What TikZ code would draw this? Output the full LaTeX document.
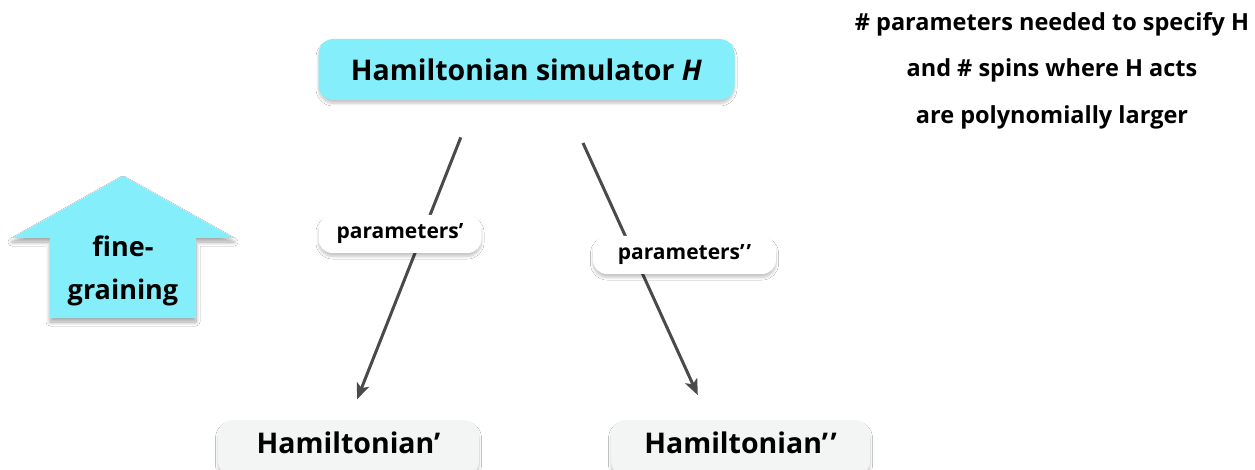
\documentclass[tikz,border=0pt]{standalone}
\usepackage{fontspec}
\setmainfont{Open Sans}
\usetikzlibrary{shadows.blur,arrows.meta,calc}
\definecolor{skycyan}{HTML}{84EEFB}
\definecolor{leafgray}{HTML}{F3F5F5}
\definecolor{linkgray}{HTML}{4A4A4A}
\newcommand{\dprime}{’\kern0.09em’}
\tikzset{
  x=1pt, y=-1pt,
  softshadow/.style={blur shadow={shadow xshift=0pt, shadow yshift=-3.5pt, shadow blur steps=8, shadow blur radius=2.5pt, shadow opacity=22}},
  cyanbox/.style={fill=skycyan, rounded corners=15pt, inner sep=0pt, softshadow},
  labelbox/.style={fill=white, rounded corners=14pt, inner sep=0pt, softshadow,
    font=\fontsize{21}{25}\selectfont\bfseries},
  leafbox/.style={fill=leafgray, rounded corners=15pt, inner sep=0pt, softshadow},
  bigtext/.style={font=\fontsize{28.5}{33}\selectfont\bfseries},
  arrowtext/.style={font=\fontsize{27}{32}\selectfont\bfseries},
  link/.style={draw=linkgray, line width=3pt, -{Stealth[length=16pt, width=13pt, inset=4pt]}},
  note/.style={font=\fontsize{23.5}{28}\selectfont\bfseries, inner sep=0pt}
}
\begin{document}
\begin{tikzpicture}
\useasboundingbox (0,0) rectangle (1255,470);
\fill[white] (0,0) rectangle (1255,470);

% coarse-to-fine arrow on the left
\fill[skycyan, blur shadow={shadow xshift=0pt, shadow yshift=-4pt, shadow blur steps=8, shadow blur radius=4pt, shadow opacity=35}]
  (123,176) -- (234,238) -- (196,238) -- (196,318) -- (50,318) -- (50,238) -- (12,238) -- cycle;
\node[arrowtext] (fine) at (123,246) {fine-};
\node[arrowtext] (grain) at (123,292) {graining};

% simulator and the two simulated Hamiltonians
\node[cyanbox, minimum width=416pt, minimum height=61pt, bigtext] (sim) at (526.5,69.5)
  {Hamiltonian simulator \textit{H}};
\node[leafbox, minimum width=261pt, minimum height=56pt] (h1) at (348.5,448) {};
\node[bigtext] (h1t) at (348.5,443) {Hamiltonian’};
\node[leafbox, minimum width=259pt, minimum height=56pt] (h2) at (740.5,448) {};
\node[bigtext] (h2t) at (740.5,443) {Hamiltonian\dprime};

% connectors
\coordinate (a1) at ($(sim.south)+(-51,0)$);
\coordinate (b1) at ($(h1.north)+(0.5,0)$);
\coordinate (a2) at ($(sim.south)+(37,0)$);
\coordinate (b2) at ($(h2.north)+(-31.5,0)$);
\draw[link, shorten <=40pt, shorten >=22pt] (a1) -- (b1);
\draw[link, shorten <=47pt, shorten >=27pt] (a2) -- (b2);

% parameter labels on the connectors
\node[labelbox, minimum width=163pt, minimum height=38pt] (p1) at (400,234) {parameters’};
\node[labelbox, minimum width=183pt, minimum height=38pt] (p2) at (684.5,255) {parameters\dprime};

% note at the top right
\node[note] (n1) at (1052,24) {\# parameters needed to specify H};
\node[note] (n2) at (1052,70) {and \# spins where H acts};
\node[note] (n3) at (1052,117) {are polynomially larger};
\end{tikzpicture}
\end{document}
